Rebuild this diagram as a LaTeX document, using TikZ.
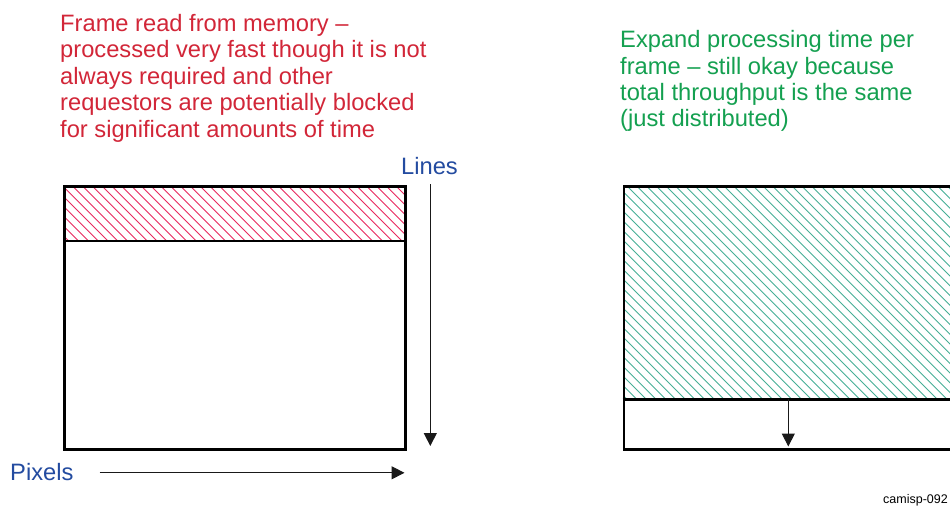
\documentclass[tikz,border=0pt]{standalone}
\usepackage{fontspec}
\setmainfont{Liberation Sans}
\usetikzlibrary{arrows.meta}
\definecolor{notered}{RGB}{210,38,56}
\definecolor{notegreen}{RGB}{20,160,80}
\definecolor{axisblue}{RGB}{35,75,160}
\definecolor{hatchred}{RGB}{232,40,95}
\definecolor{hatchgreen}{RGB}{70,175,150}
\begin{document}
\begin{tikzpicture}[x=1pt,y=-1pt,
  note/.style={inner sep=0pt,anchor=north west,align=left,font=\fontsize{23.7}{26.4}\selectfont},
  axislabel/.style={inner sep=0pt,text=axisblue,font=\fontsize{23.7}{26.4}\selectfont},
  frame/.style={draw=black,line width=2.6pt},
  hatchline/.style={line width=0.9pt},
  axisarrow/.style={draw=black!90,line width=1pt,-{Triangle[length=13pt,width=13pt]}}
]
\useasboundingbox (0,0) rectangle (950,506);
\clip (0,0) rectangle (950,506);
\fill[white] (0,0) rectangle (950,506);

% left text
\node[note,text=notered] (lt) at (60,14.2) {Frame read from memory --\\processed very fast though it is not\\always required and other\\requestors are potentially blocked\\for significant amounts of time};
% right text
\node[note,text=notegreen] (rt) at (620,30.3) {Expand processing time per\\frame -- still okay because\\total throughput is the same\\(just distributed)};

% left hatch
\begin{scope}
\clip (63,185) rectangle (404,241);
\foreach \i in {-60,-50.2,...,410} \draw[hatchline,hatchred] (63+\i,185) -- ++(62,62);
\end{scope}
% right hatch
\begin{scope}
\clip (623,185) rectangle (960,399);
\foreach \i in {-220,-210.3,...,340} \draw[hatchline,hatchgreen] (623+\i,185) -- ++(216,216);
\end{scope}

% left frame
\node[frame,inner sep=0pt,minimum width=341pt,minimum height=263pt,anchor=north west] (lbox) at (63.3,185) {};
\draw[frame] (63.3,240.8) -- (404.3,240.8);
% right frame
\node[frame,inner sep=0pt,minimum width=340pt,minimum height=263pt,anchor=north west] (rbox) at (622.7,185) {};
\draw[frame] (622.7,399.3) -- (962,399.3);

% axes
\coordinate (ltop) at (430.3,184);
\coordinate (lbot) at (430.3,446);
\draw[axisarrow] (ltop) -- (lbot);
\node[axislabel,anchor=base west] (lines) at (401,174) {Lines};
\node[axislabel,anchor=base west] (pixels) at (10,480) {Pixels};
\coordinate (pstart) at (99.5,472.8);
\coordinate (pend) at (404.5,472.8);
\draw[axisarrow] (pstart) -- (pend);

% right progress arrow
\coordinate (rtop) at (788.3,399.3);
\coordinate (rbot) at (788.3,446.5);
\draw[axisarrow] (rtop) -- (rbot);

% figure id
\node[inner sep=0pt,anchor=base west,font=\fontsize{12.5}{14}\selectfont,text=black] (fid) at (883,503) {camisp-092};
\end{tikzpicture}
\end{document}
